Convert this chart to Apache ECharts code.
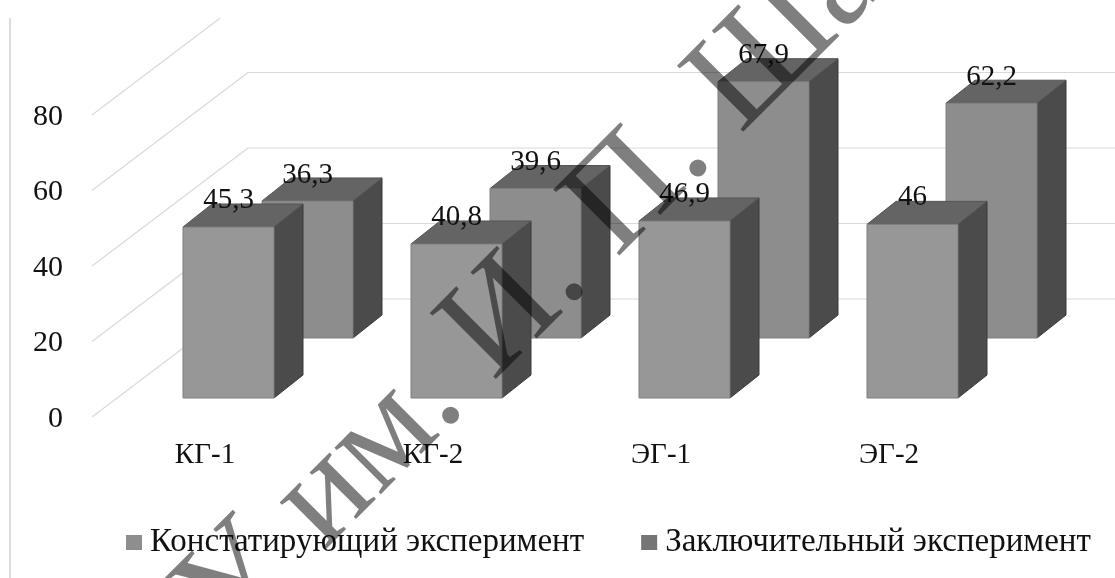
<!DOCTYPE html>
<html>
<head>
<meta charset="utf-8">
<style>
html,body{margin:0;padding:0;background:#fff;overflow:hidden}
#c{width:1115px;height:578px;filter:blur(0.45px)}
</style>
<script src="https://cdn.jsdelivr.net/npm/echarts@6/dist/echarts.min.js"></script>
</head>
<body>
<div id="c"></div>
<script>
const categories = ['КГ-1','КГ-2','ЭГ-1','ЭГ-2'];
const seriesNames = ['Констатирующий эксперимент','Заключительный эксперимент'];
const frontValues = [45.3,40.8,46.9,46];
const backValues = [36.3,39.6,67.9,62.2];
const yTicks = [0,20,40,60,80];
const watermark = 'У им. И. П. Ша';

const FONT = '"Liberation Serif","Times New Roman",serif';
const depthX = 29, depthY = -23, barW = 91;
const wallDX = 156, wallDY = -118, topClip = 18;

function barRender(offX, offY, face, labelUp){
  return function(params, api){
    const v = api.value(1);
    const base = api.coord([api.value(0), 0]);
    const top = api.coord([api.value(0), v]);
    const cx = base[0] + offX;
    const x0 = cx - barW/2, x1 = cx + barW/2;
    const y0 = base[1] + offY, y1 = top[1] + offY;
    const poly = (pts, fill, stroke) => ({type:'polygon', shape:{points:pts}, style:{fill, stroke:stroke||fill, lineWidth:1}});
    return {type:'group', children:[
      poly([[x1,y1],[x1+depthX,y1+depthY],[x1+depthX,y0+depthY],[x1,y0]], '#4b4b4b', '#3a3a3a'),
      poly([[x0,y1],[x0+depthX,y1+depthY],[x1+depthX,y1+depthY],[x1,y1]], '#646464', '#555'),
      poly([[x0,y1],[x1,y1],[x1,y0],[x0,y0]], face, '#7e7e7e'),
      {type:'text', x:cx, y:y1-labelUp, style:{text:String(v).replace('.',','), font:'29px '+FONT, fill:'#111', align:'center', verticalAlign:'middle'}, z2:10}
    ]};
  };
}

function wallRender(params, api){
  const v = api.value(1);
  const p = api.coord([0, v]);
  const y = p[1] - 2;
  const xStart = p[0] - 114 + 1;
  const t = Math.min(1, (y - topClip) / -wallDY);
  const c = [];
  const style = {stroke:'#d9d9d9', lineWidth:1.2, fill:'none'};
  c.push({type:'line', shape:{x1:xStart, y1:y, x2:xStart+wallDX*t, y2:y+wallDY*t}, style});
  if (t === 1) c.push({type:'line', shape:{x1:xStart+wallDX, y1:y+wallDY, x2:1115, y2:y+wallDY}, style});
  return {type:'group', children:c};
}

const chart = echarts.init(document.getElementById('c'), null, {renderer:'canvas'});
chart.setOption({
  animation:false,
  backgroundColor:'#fff',
  textStyle:{fontFamily:FONT},
  grid:{left:91, width:912, top:117, height:302, containLabel:false},
  xAxis:{type:'category', data:categories, axisLine:{show:false}, axisTick:{show:false},
    axisLabel:{color:'#111', fontSize:29, margin:22, fontFamily:FONT}},
  yAxis:{type:'value', min:0, max:80, interval:20, axisLine:{show:false}, axisTick:{show:false},
    splitLine:{show:false}, axisLabel:{color:'#111', fontSize:30, margin:28, fontFamily:FONT}},
  legend:{left:121, top:521, itemWidth:16, itemHeight:15, itemGap:57, icon:'rect',
    data:seriesNames, textStyle:{fontSize:33, color:'#111', fontFamily:FONT, padding:[0,0,0,3]}},
  graphic:[
    {type:'line', z:1, shape:{x1:10,y1:18,x2:10,y2:578}, style:{stroke:'#dcdcdc', lineWidth:2}},
    {type:'text', z:1000, x:251.5, y:671.5, rotation:Math.PI/4, style:{text:watermark, font:'143px '+FONT, fill:'rgba(0,0,0,0.5)', align:'left', verticalAlign:'bottom'}}
  ],
  series:[
    {type:'custom', name:'wall', silent:true, z:1, coordinateSystem:'cartesian2d', renderItem:wallRender,
      data:yTicks.map(v=>[0,v]), encode:{x:0,y:1}},
    {type:'custom', name:seriesNames[1], z:2, itemStyle:{color:'#757575'}, renderItem:barRender(102.5,-81,'#8d8d8d',26),
      data:backValues.map((v,i)=>[i,v]), encode:{x:0,y:1}},
    {type:'custom', name:seriesNames[0], z:3, itemStyle:{color:'#8e8e8e'}, renderItem:barRender(23.5,-21,'#979797',27),
      data:frontValues.map((v,i)=>[i,v]), encode:{x:0,y:1}}
  ]
});
</script>
</body>
</html>
